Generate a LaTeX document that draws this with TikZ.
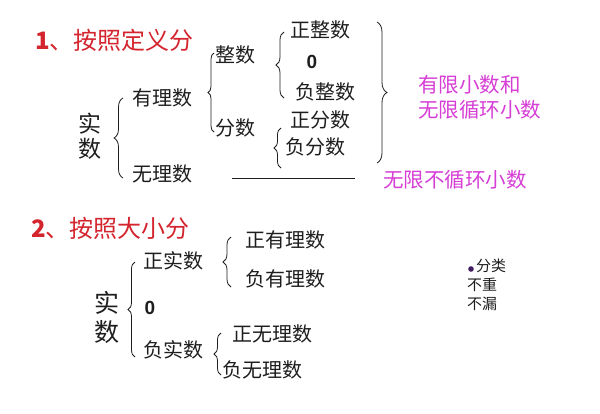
\documentclass[tikz,border=0pt]{standalone}
\usepackage{fontspec}
\setmainfont{Liberation Sans}
\newfontfamily\cjk{Noto Sans CJK SC}
\usetikzlibrary{decorations.pathreplacing}
\definecolor{titlered}{RGB}{212,36,46}
\definecolor{notepink}{RGB}{214,62,214}
\definecolor{dotpurple}{RGB}{64,28,96}
\definecolor{ink}{RGB}{30,30,30}
\tikzset{
    term/.style={font=\cjk\fontsize{20}{20}\selectfont, text=ink, inner sep=0pt, anchor=west},
    title/.style={font=\cjk\fontsize{24}{24}\selectfont, text=titlered, inner sep=0pt, anchor=west},
    note/.style={font=\cjk\fontsize{20.5}{25}\selectfont, text=notepink, inner sep=0pt, anchor=west, align=left},
    zero/.style={font=\bfseries\fontsize{19}{19}\selectfont, text=ink, inner sep=0pt},
    brace/.style={decorate, decoration={brace, amplitude=#1}, draw=ink, line width=0.8pt},
    brace/.default=7pt
}
\begin{document}
\begin{tikzpicture}[x=1pt, y=-1pt]
    \useasboundingbox[fill=white] (0,0) rectangle (600,413);
    % 1. by definition
    \node[title] (def) at (35,40) {\textbf{1}、按照定义分};
    \node[term, font=\cjk\fontsize{23}{25}\selectfont, align=center, anchor=center] (real) at (90,136) {实\\数};
    \node[term] (rat) at (132,98) {有理数};
    \node[term] (irr) at (132,174) {无理数};
    \node[term] (int) at (215,55) {整数};
    \node[term] (frac) at (215,128) {分数};
    \node[term] (posint) at (290,30) {正整数};
    \node[zero] (zeroint) at (312,62) {0};
    \node[term] (negint) at (295,92) {负整数};
    \node[term] (posfrac) at (290,120) {正分数};
    \node[term] (negfrac) at (285,147) {负分数};
    \node[note] (fin) at (418,97) {有限小数和\\无限循环小数};
    \node[note] (nonrep) at (383,180) {无限不循环小数};
    \draw[brace=9pt] (123,178) -- (123,98);
    \draw[brace=6pt] (214,132) -- (214,53);
    \draw[brace=8pt] (284,98) -- (284,32);
    \draw[brace=7pt] (281,168) -- (281,128);
    \draw[brace=10pt] (377,22) -- (377,163);
    \draw[draw=ink, line width=0.8pt] (232,178) -- (355,178);
    % 2. by size
    \node[title] (size) at (31,228) {\textbf{2}、按照大小分};
    \node[term, font=\cjk\fontsize{25}{29}\selectfont, align=center, anchor=center] (real2) at (107,317) {实\\数};
    \node[term] (posreal) at (143,261) {正实数};
    \node[zero] (zeroreal) at (150,308) {0};
    \node[term] (negreal) at (143,350) {负实数};
    \node[term] (posrat) at (245,240) {正有理数};
    \node[term] (negrat) at (245,279) {负有理数};
    \node[term] (posirr) at (232,334) {正无理数};
    \node[term] (negirr) at (222,370) {负无理数};
    \draw[brace=7pt] (135,357) -- (135,262);
    \draw[brace=8pt] (231,287) -- (231,237);
    \draw[brace=7pt] (221,375) -- (221,333);
    % note
    \fill[dotpurple] (471,269) circle (2.8);
    \node[term, font=\cjk\fontsize{15}{19}\selectfont, align=left, anchor=north west] (rule) at (467,259) {\hspace{9pt}分类\\不重\\不漏};
\end{tikzpicture}
\end{document}
